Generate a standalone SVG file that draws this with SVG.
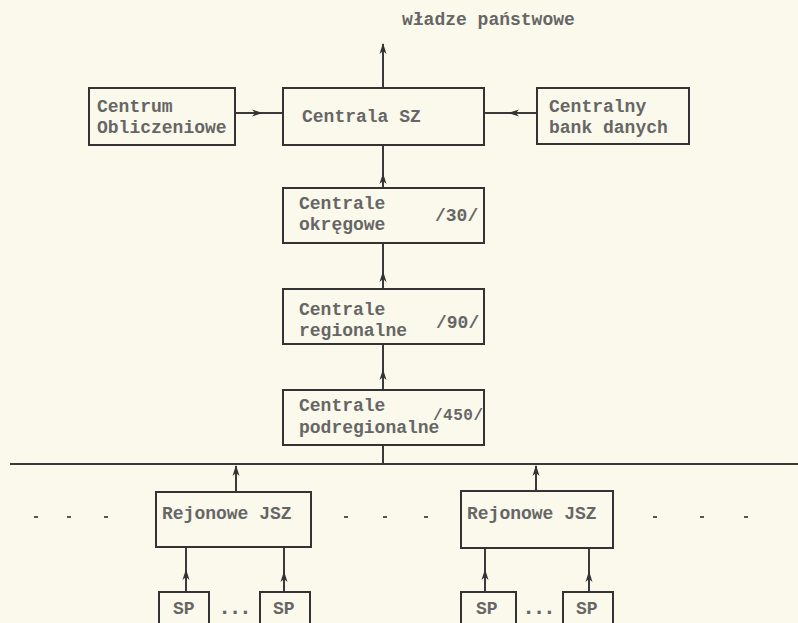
<svg xmlns="http://www.w3.org/2000/svg" width="798" height="623" viewBox="0 0 798 623">
<defs>
<style>
.bg{fill:#faf9eb}
.box{fill:none;stroke:#333;stroke-width:2}
.ln{fill:none;stroke:#3a3a3a;stroke-width:2}
.t{font-family:"Liberation Mono","DejaVu Sans Mono",monospace;font-weight:bold;font-size:18px;fill:#666}
.el{font-size:22px}
.dot{fill:#555}
</style>
<marker id="ah" viewBox="0 0 12 8" refX="10" refY="4" markerWidth="12" markerHeight="8" markerUnits="userSpaceOnUse" orient="auto">
<path d="M0,0.5 L11,4 L0,7.5 L3,4 z" fill="#333"/>
</marker>
</defs>
<rect class="bg" x="0" y="0" width="798" height="623"/>

<g id="connectors">
<path class="ln" d="M383,88 L383,44" marker-end="url(#ah)"/>
<path class="ln" d="M235,113 L262,113 L283,113" marker-mid="url(#ah)"/>
<path class="ln" d="M537,113 L509,113 L484,113" marker-mid="url(#ah)"/>
<path class="ln" d="M383,188 L383,174 L383,145" marker-mid="url(#ah)"/>
<path class="ln" d="M383,289 L383,272 L383,243" marker-mid="url(#ah)"/>
<path class="ln" d="M383,390 L383,370 L383,344" marker-mid="url(#ah)"/>
<path class="ln" d="M383,445 L383,464"/>
<path class="ln" d="M10,464 L798,464"/>
<path class="ln" d="M236,492 L236,466" marker-end="url(#ah)"/>
<path class="ln" d="M536,491 L536,466" marker-end="url(#ah)"/>
<path class="ln" d="M186,592 L186,570 L186,547" marker-mid="url(#ah)"/>
<path class="ln" d="M284,592 L284,572 L284,547" marker-mid="url(#ah)"/>
<path class="ln" d="M485,592 L485,570 L485,548" marker-mid="url(#ah)"/>
<path class="ln" d="M589,592 L589,572 L589,548" marker-mid="url(#ah)"/>
</g>

<g id="wladze">
<text class="t" x="402" y="25">władze państwowe</text>
</g>

<g id="centrum">
<rect class="box" x="89" y="88" width="146" height="57"/>
<text class="t" x="97" y="112">Centrum</text>
<text class="t" x="97" y="133">Obliczeniowe</text>
</g>

<g id="centrala">
<rect class="box" x="283" y="88" width="201" height="57"/>
<text class="t" x="302" y="122">Centrala SZ</text>
</g>

<g id="bank">
<rect class="box" x="537" y="88" width="152" height="56"/>
<text class="t" x="549" y="112">Centralny</text>
<text class="t" x="549" y="133">bank danych</text>
</g>

<g id="okregowe">
<rect class="box" x="283" y="188" width="201" height="55"/>
<text class="t" x="299" y="209">Centrale</text>
<text class="t" x="299" y="230">okręgowe</text>
<text class="t" x="435" y="221">/30/</text>
</g>

<g id="regionalne">
<rect class="box" x="283" y="289" width="201" height="55"/>
<text class="t" x="299" y="315">Centrale</text>
<text class="t" x="299" y="336">regionalne</text>
<text class="t" x="436" y="328">/90/</text>
</g>

<g id="podregionalne">
<rect class="box" x="283" y="390" width="201" height="55"/>
<text class="t" x="299" y="411">Centrale</text>
<text class="t" x="299" y="433">podregionalne</text>
<text class="t" x="433" y="420" style="font-size:16px" textLength="50">/450/</text>
</g>

<g id="rejonowe1">
<rect class="box" x="156" y="492" width="155" height="55"/>
<text class="t" x="162" y="519">Rejonowe JSZ</text>
</g>

<g id="rejonowe2">
<rect class="box" x="461" y="491" width="152" height="57"/>
<text class="t" x="467" y="519">Rejonowe JSZ</text>
</g>

<g id="sp1">
<rect class="box" x="159" y="592" width="50" height="40"/>
<text class="t" x="173" y="614">SP</text>
</g>
<g id="sp2">
<rect class="box" x="260" y="592" width="50" height="40"/>
<text class="t" x="273" y="614">SP</text>
</g>
<g id="sp3">
<rect class="box" x="461" y="592" width="55" height="40"/>
<text class="t" x="476" y="614">SP</text>
</g>
<g id="sp4">
<rect class="box" x="563" y="592" width="50" height="40"/>
<text class="t" x="576" y="614">SP</text>
</g>

<g id="ellipses">
<text class="t el" x="218" y="614" textLength="34">...</text>
<text class="t el" x="522" y="614" textLength="34">...</text>
<rect class="dot" x="34" y="516" width="4" height="2"/>
<rect class="dot" x="67" y="516" width="4" height="2"/>
<rect class="dot" x="104" y="516" width="4" height="2"/>
<rect class="dot" x="344" y="516" width="4" height="2"/>
<rect class="dot" x="383" y="516" width="4" height="2"/>
<rect class="dot" x="424" y="516" width="4" height="2"/>
<rect class="dot" x="653" y="516" width="4" height="2"/>
<rect class="dot" x="700" y="516" width="4" height="2"/>
<rect class="dot" x="744" y="516" width="4" height="2"/>
</g>
</svg>
